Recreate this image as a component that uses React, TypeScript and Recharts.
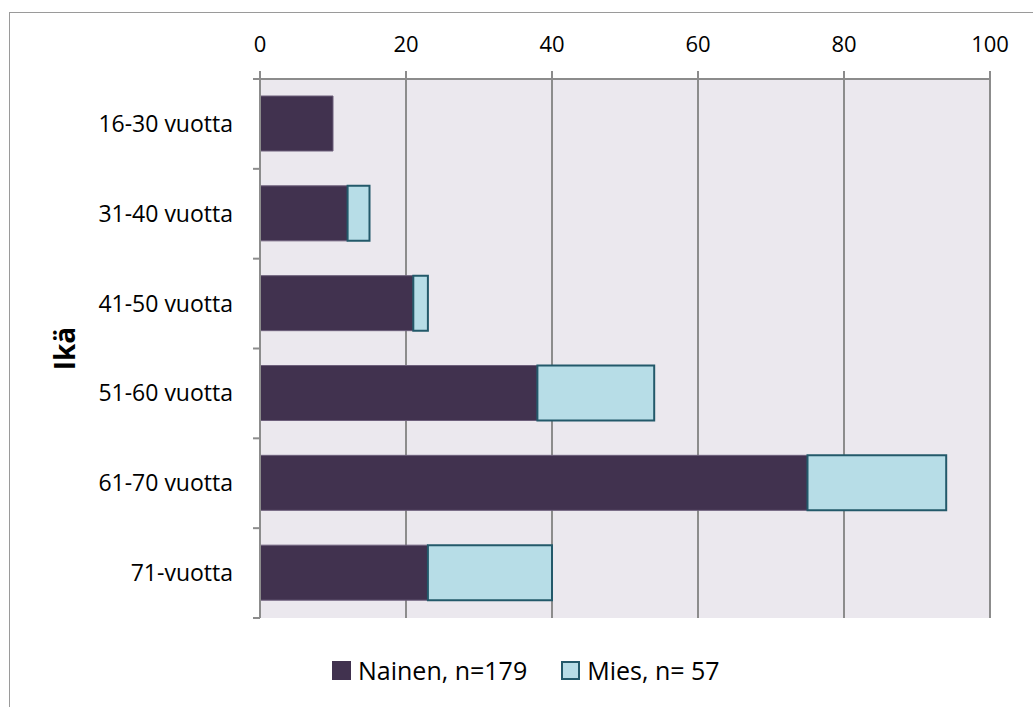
import { BarChart, Bar, XAxis, YAxis, CartesianGrid, Legend } from 'recharts';

const ageGroups = ['16-30 vuotta', '31-40 vuotta', '41-50 vuotta', '51-60 vuotta', '61-70 vuotta', '71-vuotta'];
const women = [10, 12, 21, 38, 75, 23];
const men = [0, 3, 2, 16, 19, 17];
const xTicks = [0, 20, 40, 60, 80, 100];

const data = ageGroups.map((group, i) => ({ group, nainen: women[i], mies: men[i] }));

const font = '"Open Sans", sans-serif';
const axisGrey = '#8c8c8c';
const womenColor = '#41324F';
const menColor = '#B7DDE7';
const menEdge = '#23596A';

// Category label at the band centre, tick marks on the band edges
function AgeTick(props: any) {
  const { x, y, payload, index, visibleTicksCount } = props;
  const half = payload?.offset ?? 45;
  const isLast = index === visibleTicksCount - 1;
  return (
    <g>
      <line x1={x - 7} x2={x} y1={y - half} y2={y - half} stroke={axisGrey} strokeWidth={2} />
      {isLast && <line x1={x - 7} x2={x} y1={y + half} y2={y + half} stroke={axisGrey} strokeWidth={2} />}
      <text x={x - 27} y={y} dy={8} textAnchor="end" fill="#000" fontSize={23} fontFamily={font}>
        {payload.value}
      </text>
    </g>
  );
}

// Rotated axis title, centred on the plot height
function AxisTitle(props: any) {
  const { viewBox } = props;
  const cx = viewBox.x + 75;
  const cy = viewBox.y + viewBox.height / 2;
  return (
    <text
      x={cx}
      y={cy}
      transform={`rotate(-90 ${cx} ${cy})`}
      textAnchor="middle"
      fontSize={28}
      fontWeight="bold"
      fill="#000"
      fontFamily={font}
    >
      Ikä
    </text>
  );
}

const legendItems = [
  { label: 'Nainen, n=179', fill: womenColor, edge: womenColor },
  { label: 'Mies, n= 57', fill: menColor, edge: menEdge },
];

function AgeLegend() {
  return (
    <div style={{ display: 'flex', height: 30, alignItems: 'center', paddingLeft: 332, fontFamily: font, fontSize: 25 }}>
      {legendItems.map((item) => (
        <div key={item.label} style={{ display: 'flex', alignItems: 'center', marginRight: 34 }}>
          <span
            style={{
              display: 'inline-block',
              width: 15,
              height: 15,
              background: item.fill,
              border: `2px solid ${item.edge}`,
              marginRight: 7,
            }}
          />
          <span style={{ color: '#000' }}>{item.label}</span>
        </div>
      ))}
    </div>
  );
}

export default function App() {
  return (
    <div style={{ position: 'absolute', left: 0, top: 0, width: 1033, height: 707, background: '#fff' }}>
      <div
        style={{
          position: 'absolute',
          left: 9,
          top: 12,
          width: 1040,
          height: 720,
          border: '1.5px solid #9a9a9a',
        }}
      />
      <BarChart
        width={1033}
        height={707}
        data={data}
        layout="vertical"
        barSize={55}
        margin={{ top: 39, right: 43, bottom: 59, left: 0 }}
        style={{ position: 'absolute', left: 0, top: 0 }}
      >
        <CartesianGrid horizontal={false} stroke={axisGrey} strokeWidth={2} fill="#EBE8EE" />
        <XAxis
          type="number"
          orientation="top"
          domain={[0, 100]}
          ticks={xTicks}
          height={40}
          axisLine={{ stroke: axisGrey, strokeWidth: 2 }}
          tickLine={{ stroke: axisGrey, strokeWidth: 2 }}
          tickSize={8}
          tickMargin={19}
          tick={{ fill: '#000', fontSize: 22, fontFamily: font }}
        />
        <YAxis
          type="category"
          dataKey="group"
          width={260}
          axisLine={{ stroke: axisGrey, strokeWidth: 2 }}
          tickLine={false}
          tickSize={0}
          tickMargin={0}
          tick={<AgeTick />}
          label={<AxisTitle />}
        />
        <Legend
          verticalAlign="bottom"
          content={<AgeLegend />}
          wrapperStyle={{ left: 0, width: 1033, top: 655 }}
        />
        <Bar
          dataKey="nainen"
          name="Nainen, n=179"
          stackId="a"
          fill={womenColor}
          stroke="#6d5f7b"
          strokeWidth={1}
          isAnimationActive={false}
        />
        <Bar
          dataKey="mies"
          name="Mies, n= 57"
          stackId="a"
          fill={menColor}
          stroke={menEdge}
          strokeWidth={2}
          isAnimationActive={false}
        />
      </BarChart>
    </div>
  );
}
